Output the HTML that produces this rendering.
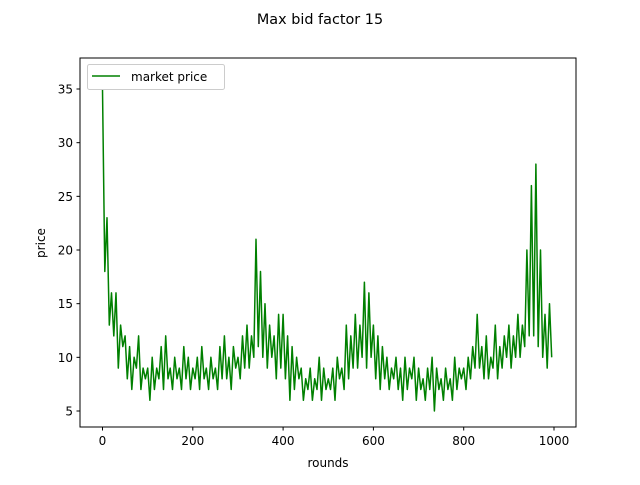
<!DOCTYPE html>
<html><head><meta charset="utf-8"><style>
body{margin:0;background:#fff;}
svg text{font-family:"DejaVu Sans","Liberation Sans",sans-serif;font-size:12px;fill:#000;}
</style></head><body>
<svg id="chart" width="640" height="480">
<text x="320" y="24" text-anchor="middle" style="font-size:14.4px">Max bid factor 15</text>
<g id="plot"></g>
<rect x="80" y="58" width="496" height="369" fill="none" stroke="#000" stroke-width="1"/>
<text x="328" y="467" text-anchor="middle">rounds</text>
<text transform="translate(45,243) rotate(-90)" text-anchor="middle">price</text>
<g>
<rect x="87.5" y="64.5" width="137" height="25" rx="2" fill="#fff" fill-opacity="0.8" stroke="#ccc"/>
<line x1="92" y1="76" x2="120" y2="76" stroke="#008000" stroke-width="1.5"/>
<text x="131" y="81">market price</text>
</g>
</svg>
<script>
const xTicks=[0,200,400,600,800,1000];
const yTicks=[5,10,15,20,25,30,35];
const step=5;
const prices=[35,18,23,13,16,12,16,9,13,11,
12,8,11,7,10,9,12,7,9,8,
9,6,10,7,9,8,11,7,12,8,
9,7,10,8,9,7,11,8,10,7,
9,8,10,7,11,8,9,7,10,8,
9,7,11,8,12,8,10,7,11,9,
10,8,12,9,13,9,12,10,21,11,
18,10,15,9,13,10,12,8,14,9,
14,8,12,6,11,7,10,8,9,6,
8,7,9,6,8,7,10,6,9,7,
8,7,9,6,10,8,9,7,13,8,
12,9,14,9,13,10,17,9,16,10,
13,8,12,7,11,8,10,7,9,8,
10,7,9,6,10,7,9,8,10,6,
9,7,8,6,9,7,10,5,9,7,
8,6,9,7,8,6,10,7,9,8,
9,7,10,8,11,9,14,9,11,8,
12,8,10,9,13,8,11,9,12,10,
13,9,12,10,14,10,13,11,20,12,
26,12,28,11,20,10,14,9,15,10];
const NS='http://www.w3.org/2000/svg';
const X=v=>102.5+v*0.4515;
const Y=v=>411+(5-v)*10.733;
const g=document.getElementById('plot');
function mk(t,a){const e=document.createElementNS(NS,t);for(const k in a)e.setAttribute(k,a[k]);return e;}
xTicks.forEach(t=>{
 const l=mk('line',{x1:X(t),x2:X(t),y1:427,y2:430.5,stroke:'#000'});
 
 
 g.appendChild(l);
 const tx=mk('text',{x:X(t),y:445,'text-anchor':'middle'});tx.textContent=t;
 
 
 g.appendChild(tx);
});
yTicks.forEach(t=>{
 const l=mk('line',{x1:76.5,x2:80,y1:Y(t),y2:Y(t),stroke:'#000'});
 
 
 g.appendChild(l);
 const tx=mk('text',{x:73,y:Y(t)+4.5,'text-anchor':'end'});tx.textContent=t;
 
 
 g.appendChild(tx);
});
const pts=prices.map((v,i)=>X(i*step).toFixed(1)+','+Y(v).toFixed(1)).join(' ');
const pl=mk('polyline',{points:pts,fill:'none',stroke:'#008000','stroke-width':1.5,'stroke-linejoin':'round'});


g.appendChild(pl);
</script>
</body></html>
